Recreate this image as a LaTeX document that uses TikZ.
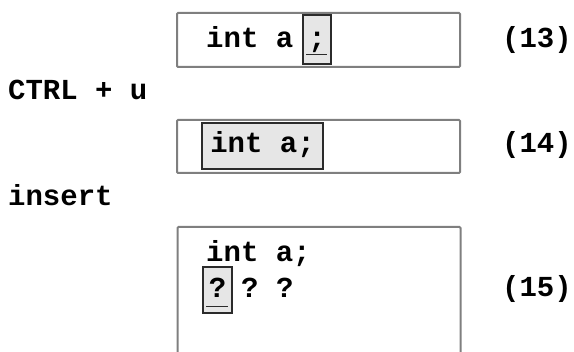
\documentclass[tikz,border=0pt]{standalone}
\usepackage{fontspec}
\setmonofont{Liberation Mono}
\usepackage{tikz}
\usetikzlibrary{positioning, calc}
\definecolor{edframe}{HTML}{7F7F7F}
\definecolor{edcursor}{HTML}{E6E6E6}
\definecolor{edink}{HTML}{2B2B2B}

\begin{document}
\begin{tikzpicture}[x=1pt, y=-1pt,
    frame/.style={draw=edframe, line width=2pt, rounded corners=1pt, minimum width=283pt, inner sep=0pt},
    cursor/.style={draw=edink, fill=edcursor, line width=1.3pt, inner sep=0pt, anchor=base, font=\codefont},
    code/.style={inner sep=0pt, anchor=base west, font=\codefont},
]
\providecommand\codefont{\ttfamily\bfseries\fontsize{29}{34}\selectfont}
\clip (0,0) rectangle (574,352);

% editor windows
\node[frame, minimum height=54pt] (ed13) at (318.5,40) {};
\node[frame, minimum height=53pt] (ed14) at (318.5,146.5) {};
\node[frame, minimum height=150pt] (ed15) at (319,302) {};

% (13): cursor on the semicolon
\node[code] (l13) at (206,48) {int a};
\node[cursor, minimum width=28pt, text height=33pt, text depth=16pt] (c13) at (317,48) {;};
\draw[edink, line width=1.5pt] ($(c13.south west)+(4,-10)$) -- ($(c13.south east)+(-5,-10)$);

% (14): whole declaration selected
\node[cursor, minimum width=121pt, text height=30pt, text depth=16pt] (c14) at (262.5,153) {int a;};

% (15): placeholders after insert
\node[code] (l15a) at (206,262) {int a;};
\node[cursor, minimum width=29pt, text height=31pt, text depth=15pt] (c15) at (217.5,298) {?};
\draw[edink, line width=1.5pt] ($(c15.south west)+(4,-7)$) -- ($(c15.south east)+(-5,-7)$);
\node[code] (l15b) at (241,298) {? ?};

% step numbers
\node[code, anchor=base east] (n13) at (572,48) {(13)};
\node[code, anchor=base east] (n14) at (572,153) {(14)};
\node[code, anchor=base east] (n15) at (572,297) {(15)};

% commands
\node[code] (k1) at (8,100) {CTRL + u};
\node[code] (k2) at (8,206) {insert};
\end{tikzpicture}
\end{document}
